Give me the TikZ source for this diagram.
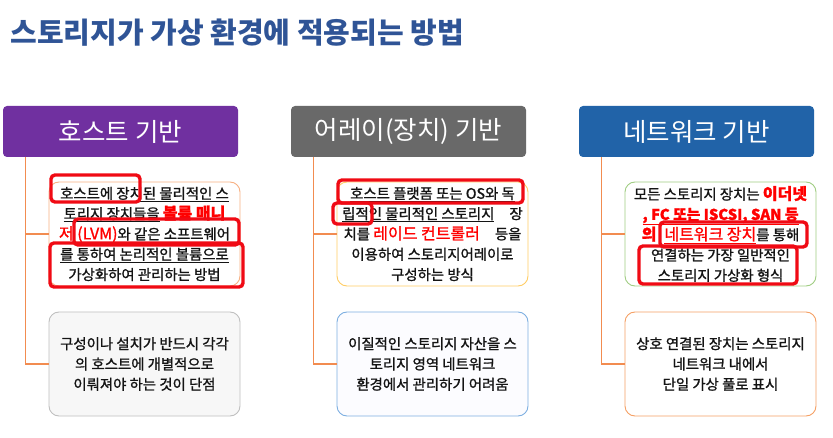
\documentclass[tikz,border=0pt]{standalone}
\usepackage{fontspec}
\setmainfont{Noto Sans CJK KR}
\newfontfamily\bodyfont{Noto Sans CJK KR}[FakeBold=1.2]
\usetikzlibrary{positioning}
\definecolor{titleblue}{RGB}{47,84,150}
\definecolor{hostpurple}{RGB}{112,48,160}
\definecolor{arraygray}{RGB}{105,105,105}
\definecolor{netblue}{RGB}{33,99,168}
\definecolor{branchorange}{RGB}{242,140,80}
\definecolor{markred}{RGB}{240,10,20}
\definecolor{bodytext}{RGB}{20,20,20}
\definecolor{lineA1}{RGB}{247,176,130}
\definecolor{lineB1}{RGB}{191,191,191}
\definecolor{lineA2}{RGB}{255,205,100}
\definecolor{lineB2}{RGB}{125,175,225}
\definecolor{lineA3}{RGB}{160,205,130}
\definecolor{lineB3}{RGB}{245,160,100}
\newcommand{\hl}[1]{\textcolor{red}{\fontsize{16}{20.3}\selectfont #1}}

\begin{document}
\begin{tikzpicture}[x=1pt,y=-1pt,
  node distance=53pt,
  head/.style={minimum width=235pt, minimum height=51pt, rounded corners=4pt, outer sep=0pt,
    text=white, font=\fontsize{25.5}{29}\selectfont},
  body/.style={draw, line width=0.9pt, rounded corners=10pt, minimum width=191pt, minimum height=104pt,
    outer sep=0pt, inner sep=1pt, align=center, text=bodytext, font=\bodyfont\fontsize{14.4}{20.3}\selectfont},
  branch/.style={draw=branchorange, line width=1.2pt},
  redmark/.style={draw=markred, line width=3.4pt, rounded corners=4pt},
]
\useasboundingbox (0,0) rectangle (833,438);

\node[anchor=west, text=titleblue, font=\fontsize{29}{32}\selectfont\bfseries] (title) at (7,33)
  {스토리지가 가상 환경에 적용되는 방법};

% headers
\node[head, fill=hostpurple] (host) at (120.5,131.5) {호스트 기반};
\node[head, fill=arraygray, right=of host] (array) {어레이(장치) 기반};
\node[head, fill=netblue, right=of array] (net) {네트워크 기반};

% host based
\node[body, draw=lineA1, fill=white, below right=25pt and 46pt of host.south west] (hostA)
  {\underline{호스트에 장치된 물리적인 스}\\
   \underline{토리지 장치들을} \hl{\textbf{볼륨 매니}}\\
   \hl{저 (LVM)}\underline{와 같은 소프트웨어}\\
   \underline{를 통하여 논리적인 볼륨으로}\\
   가상화하여 관리하는 방법};
\node[body, draw=lineB1, fill=black!3, below=26pt of hostA] (hostB)
  {구성이나 설치가 반드시 각각\\의 호스트에 개별적으로\\이뤄져야 하는 것이 단점};
\draw[branch] ([xshift=22.5pt]host.south west) |- (hostA.west);
\draw[branch] ([xshift=22.5pt]host.south west) |- (hostB.west);

% array based
\node[body, draw=lineA2, fill=white, below right=25pt and 46pt of array.south west] (arrayA)
  {\underline{호스트 플랫폼 또는 OS와 독}\\
   \underline{립적인 물리적인 스토리지}\hspace{15pt}장\\
   치를 \hl{레이드 컨트롤러}\hspace{15pt}등을\\
   이용하여 스토리지어레이로\\
   구성하는 방식};
\node[body, draw=lineB2, fill=blue!1, below=26pt of arrayA] (arrayB)
  {이질적인 스토리지 자산을 스\\토리지 영역 네트워크\\환경에서 관리하기 어려움};
\draw[branch] ([xshift=22.5pt]array.south west) |- (arrayA.west);
\draw[branch] ([xshift=22.5pt]array.south west) |- (arrayB.west);

% network based
\node[body, draw=lineA3, fill=white, below right=25pt and 46pt of net.south west] (netA)
  {모든 스토리지 장치는 \hl{\textbf{이더넷}}\\
   \textcolor{red}{\fontsize{14.8}{20.3}\selectfont\textbf{\underline{, FC 또는 ISCSI, SAN 등}}}\\
   \hl{\textbf{의}}\hspace{8pt}\hl{\underline{네트워크 장치}}를 통해\\
   연결하는 가장 일반적인\\
   스토리지 가상화 형식};
\node[body, draw=lineB3, fill=white, below=26pt of netA] (netB)
  {상호 연결된 장치는 스토리지\\네트워크 내에서\\단일 가상 풀로 표시};
\draw[branch] ([xshift=22.5pt]net.south west) |- (netA.west);
\draw[branch] ([xshift=22.5pt]net.south west) |- (netB.west);

% red marks
\draw[redmark] (51,175) rectangle (140,202);
\draw[redmark] (74,219) rectangle (239,245);
\draw[redmark] (50,243) rectangle (243,287);
\draw[redmark] (338,180) rectangle (523,203);
\draw[redmark] (333,203) rectangle (372,224);
\draw[redmark] (660,222) rectangle (807,247);
\draw[redmark] (639,246) rectangle (797,284);
\end{tikzpicture}
\end{document}
